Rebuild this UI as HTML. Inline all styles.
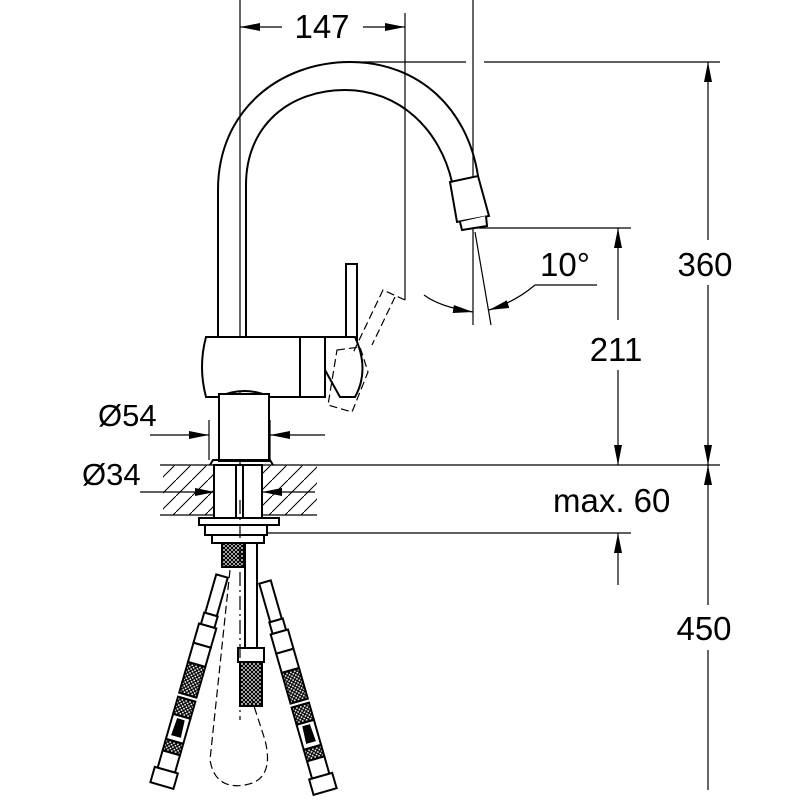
<!DOCTYPE html>
<html><head><style>body{margin:0;background:#fff}svg{display:block}text{font-family:"Liberation Sans",sans-serif;fill:#000}</style></head><body>
<svg width="800" height="800" viewBox="0 0 800 800" xmlns="http://www.w3.org/2000/svg">
<defs>
<marker id="a" viewBox="0 0 20 8" refX="20" refY="4" markerWidth="20" markerHeight="8" markerUnits="userSpaceOnUse" orient="auto-start-reverse"><path d="M0,0L20,4L0,8z" fill="#000"/></marker>
<pattern id="h" width="16" height="16" patternUnits="userSpaceOnUse"><path d="M0,16L16,0" stroke="#000" stroke-width="1"/></pattern>
<pattern id="x" width="4" height="4" patternUnits="userSpaceOnUse"><rect width="4" height="4" fill="#fff"/><path d="M0,0L4,4M4,0L0,4" stroke="#000" stroke-width="1.2"/></pattern>
</defs>
<g fill="none" stroke="#000" stroke-width="1.2">
<line x1="240" y1="0" x2="240" y2="465"/>
<line x1="405" y1="13" x2="405" y2="300"/>
<line x1="282" y1="27" x2="240" y2="27" marker-end="url(#a)"/>
<line x1="363" y1="27" x2="405" y2="27" marker-end="url(#a)"/>
<line x1="473" y1="0" x2="473" y2="325"/>
<line x1="350" y1="62" x2="466" y2="62"/><line x1="484" y1="62" x2="720" y2="62"/>
<line x1="468" y1="228" x2="631" y2="228"/>
<line x1="475" y1="232" x2="491" y2="325"/>
<path d="M424,295 Q440,307 473,312" marker-end="url(#a)"/>
<path d="M535,285 Q515,302 489,310" marker-end="url(#a)"/>
<line x1="535" y1="285" x2="597" y2="285"/>
<line x1="708" y1="240" x2="708" y2="62" marker-end="url(#a)"/>
<line x1="708" y1="285" x2="708" y2="465" marker-end="url(#a)"/>
<line x1="618" y1="320" x2="618" y2="228" marker-end="url(#a)"/>
<line x1="618" y1="370" x2="618" y2="465" marker-end="url(#a)"/>
<line x1="708" y1="605" x2="708" y2="465" marker-end="url(#a)"/>
<line x1="708" y1="650" x2="708" y2="790"/>
<line x1="618" y1="585" x2="618" y2="533" marker-end="url(#a)"/>
<line x1="265" y1="533" x2="631" y2="533"/>
<line x1="160" y1="465" x2="720" y2="465"/>
</g>
<rect x="163" y="465" width="50" height="50" fill="url(#h)"/>
<rect x="262" y="465" width="55" height="50" fill="url(#h)"/>
<g fill="none" stroke="#000" stroke-width="1.2">
<line x1="160" y1="515" x2="317" y2="515"/>
<line x1="140" y1="492" x2="215" y2="492" marker-end="url(#a)"/>
<line x1="315" y1="492" x2="262" y2="492" marker-end="url(#a)"/>
<line x1="150" y1="435" x2="209" y2="435" marker-end="url(#a)"/>
<line x1="325" y1="435" x2="270" y2="435" marker-end="url(#a)"/>
<line x1="209" y1="420" x2="209" y2="460"/><line x1="270" y1="420" x2="270" y2="460"/>
</g>
<g fill="none" stroke="#000" stroke-width="2">
<path d="M218,340 L218,190 C218,110 280,62 350,62 C420,62 468,110 478,176"/>
<path d="M246,340 L246,185 C246,125 290,90 345,90 C400,90 440,130 452,182"/>
<path d="M450,182 L478,176 L489,216 L457,222 Z" fill="#fff"/>
<path d="M460,222 L462,230 L487,226 L486,216" fill="#fff"/>
<rect x="346" y="264" width="11" height="76" fill="#fff"/>
<path d="M206,337 L300,337 L300,397 L270,397 Q245,385 218,397 L206,397 Q198,367 206,337Z" fill="#fff"/>
<rect x="300" y="337" width="25" height="60" fill="#fff"/>
<path d="M325,337 L355,337 Q370,370 355,397 L340,397 L325,370 Z" fill="#fff"/>
<rect x="219" y="394" width="50" height="67" fill="#fff"/>
<path d="M210,465 L213,460 L270,460 L273,465" />
<rect x="214" y="465" width="48" height="53" fill="#fff"/>
<line x1="236" y1="465" x2="236" y2="518"/><line x1="243" y1="465" x2="243" y2="518"/>
<rect x="199" y="518" width="80" height="7" fill="#fff"/>
<rect x="205" y="525" width="62" height="10" fill="#fff"/>
<rect x="212" y="535" width="52" height="8" fill="#fff"/>
<rect x="222" y="543" width="22" height="24" fill="url(#x)"/>
<line x1="245" y1="543" x2="245" y2="650"/><line x1="257" y1="543" x2="257" y2="650"/>
<rect x="238" y="648" width="26" height="14" fill="#fff"/>
<rect x="240" y="662" width="22" height="44" fill="url(#x)"/>
</g>
<g fill="none" stroke="#000" stroke-width="1.2" stroke-dasharray="8,4">
<path d="M405,300 L383,290 L352,355"/>
<path d="M395,297 L372,345"/>
<path d="M337,350 L360,347 L368,372 L352,412 L328,405 Z"/>
<path d="M230,570 L210,760 Q215,790 245,785 Q275,780 265,740 L252,700"/>
<line x1="240" y1="500" x2="240" y2="720" stroke-dasharray="14,4,2,4"/>
</g>
<g stroke="#000" stroke-width="2">
<g transform="translate(222,576) rotate(16)">
<rect x="-6" y="0" width="12" height="40" fill="#fff"/>
<rect x="-7" y="40" width="14" height="12" fill="#fff"/>
<rect x="-9" y="52" width="18" height="20" fill="#fff"/>
<rect x="-9" y="72" width="18" height="20" fill="#fff"/>
<rect x="-9" y="92" width="18" height="32" fill="url(#x)"/>
<rect x="-9" y="128" width="18" height="18" fill="url(#x)"/>
<rect x="-9" y="146" width="18" height="26" fill="#fff"/>
<rect x="-9" y="172" width="18" height="12" fill="url(#x)"/>
<rect x="-9" y="184" width="18" height="18" fill="#fff"/>
<rect x="-12" y="202" width="24" height="16" fill="#fff"/>
<path d="M-3,150 L3,150 L4,166 L-4,166Z" fill="#000"/>
</g>
<g transform="translate(265,582) rotate(-16)">
<rect x="-6" y="0" width="12" height="40" fill="#fff"/>
<rect x="-7" y="40" width="14" height="12" fill="#fff"/>
<rect x="-9" y="52" width="18" height="20" fill="#fff"/>
<rect x="-9" y="72" width="18" height="20" fill="#fff"/>
<rect x="-9" y="92" width="18" height="32" fill="url(#x)"/>
<rect x="-9" y="128" width="18" height="18" fill="url(#x)"/>
<rect x="-9" y="146" width="18" height="26" fill="#fff"/>
<rect x="-9" y="172" width="18" height="12" fill="url(#x)"/>
<rect x="-9" y="184" width="18" height="18" fill="#fff"/>
<rect x="-12" y="202" width="24" height="16" fill="#fff"/>
<path d="M-3,150 L3,150 L4,166 L-4,166Z" fill="#000"/>
</g>
</g>
<rect x="283" y="10" width="78" height="34" fill="#fff"/>
<text x="322" y="38" font-size="33" text-anchor="middle">147</text>
<text x="565" y="276" font-size="33" text-anchor="middle">10°</text>
<text x="705" y="276" font-size="33" text-anchor="middle">360</text>
<text x="616" y="361" font-size="33" text-anchor="middle">211</text>
<text x="553" y="512" font-size="33">max. 60</text>
<text x="704" y="640" font-size="33" text-anchor="middle">450</text>
<text x="98" y="426" font-size="31">Ø54</text>
<text x="82" y="485" font-size="31">Ø34</text>
</svg>
</body></html>
